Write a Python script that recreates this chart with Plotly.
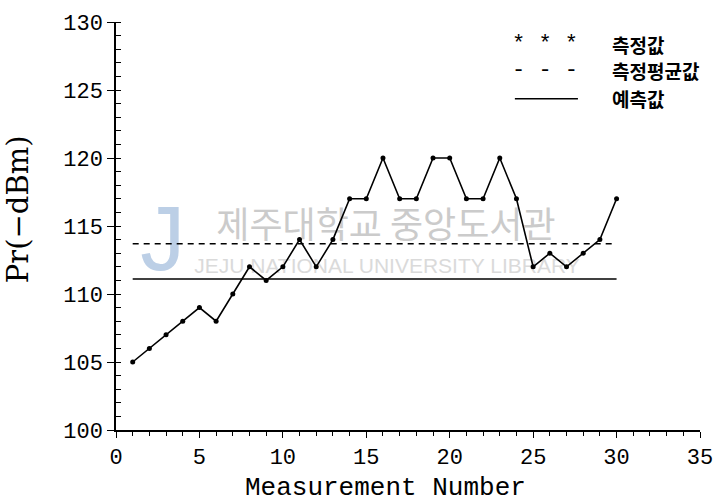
import plotly.graph_objects as go

# ---- data ----
measurement_number = list(range(1, 31))
measured_pr = [105, 106, 107, 108, 109, 108, 110, 112, 111, 112,
               114, 112, 114, 117, 117, 120, 117, 117, 120, 120,
               117, 117, 120, 117, 112, 113, 112, 113, 114, 117]
mean_pr = 113.7
predicted_pr = 111.1
line_x = [1, 30]

legend_labels = ["측정값", "측정평균값", "예측값"]
legend_symbols = ["* * *", "- - -", ""]

x_title = "Measurement Number"
y_title = "Pr(−dBm)"

LAT = "Liberation Mono"
KOR = "Noto Sans CJK KR"

fig = go.Figure()

# watermark (drawn first so it sits under the data)
fig.add_trace(go.Scatter(x=[16.18], y=[114.78], mode="text", text=["제주대학교 중앙도서관"],
                         textfont=dict(family=KOR, size=36, color="#cbcbcb"),
                         hoverinfo="skip", showlegend=False, cliponaxis=False))
fig.add_trace(go.Scatter(x=[16.24], y=[111.93], mode="text", text=["JEJU NATIONAL UNIVERSITY LIBRARY"],
                         textfont=dict(family="Liberation Sans", size=21, color="#dadada"),
                         hoverinfo="skip", showlegend=False, cliponaxis=False))
fig.add_trace(go.Scatter(x=[2.8], y=[113.4], mode="text", text=["J"],
                         textfont=dict(family="Liberation Sans", size=90, color="#bccfe6"),
                         hoverinfo="skip", showlegend=False, cliponaxis=False))

# mean and predicted lines
fig.add_trace(go.Scatter(x=line_x, y=[mean_pr] * 2, mode="lines",
                         line=dict(color="black", width=1.5, dash="6px,5px"),
                         showlegend=False))
fig.add_trace(go.Scatter(x=line_x, y=[predicted_pr] * 2, mode="lines",
                         line=dict(color="black", width=1.5),
                         showlegend=False))
# measured series
fig.add_trace(go.Scatter(x=measurement_number, y=measured_pr, mode="lines+markers",
                         line=dict(color="black", width=1.6),
                         marker=dict(color="black", size=5),
                         showlegend=False))

# legend built by hand
rows_y = [0.946, 0.880, 0.812]
for i, (lab, sym) in enumerate(zip(legend_labels, legend_symbols)):
    fig.add_annotation(x=0.846, y=rows_y[i], xref="paper", yref="paper", text=lab,
                       showarrow=False, xanchor="left", yanchor="middle",
                       font=dict(family=KOR, size=19, color="black", weight="bold"))
    if sym:
        fig.add_annotation(x=0.735, y=rows_y[i], xref="paper", yref="paper", text=sym,
                           showarrow=False, xanchor="center", yanchor="middle",
                           font=dict(family=LAT, size=22, color="black"))
fig.add_shape(type="line", xref="paper", yref="paper", x0=0.683, x1=0.791,
              y0=rows_y[2], y1=rows_y[2], line=dict(color="black", width=1.5))

# axis titles
fig.add_annotation(x=0.461, y=-0.142, xref="paper", yref="paper", text=x_title,
                   showarrow=False, xanchor="center", yanchor="middle",
                   font=dict(family=LAT, size=26, color="black"))
fig.add_annotation(x=-0.168, y=0.541, xref="paper", yref="paper", text=y_title,
                   showarrow=False, xanchor="center", yanchor="middle", textangle=-90,
                   font=dict(family="DejaVu Serif", size=29, color="black"))

axis_common = dict(showline=True, linecolor="black", linewidth=1.5, showgrid=False,
                   zeroline=False, tickcolor="black", ticks="outside", tickwidth=1.3,
                   tickfont=dict(family=LAT, size=22, color="black"), mirror=False)

fig.update_xaxes(range=[0, 35], dtick=5, tick0=0, ticklen=6,
                 minor=dict(dtick=1, ticks="outside", ticklen=4, tickcolor="black", tickwidth=1.1),
                 **axis_common)
fig.update_yaxes(range=[100, 130], dtick=5, tick0=100, ticklen=7,
                 minor=dict(dtick=1, ticks="inside", ticklen=5, tickcolor="black", tickwidth=1.1),
                 **axis_common)

fig.update_layout(width=727, height=503, margin=dict(l=116, r=27, t=20, b=73),
                  plot_bgcolor="white", paper_bgcolor="white", showlegend=False)

fig.write_html("out.html")
